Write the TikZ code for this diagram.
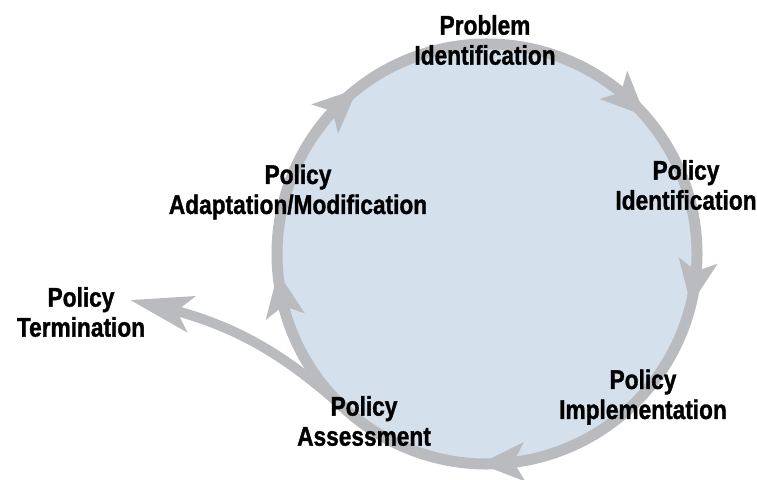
\documentclass[tikz,border=0pt]{standalone}
\usepackage{fontspec}
\setmainfont[FakeStretch=0.84,FakeBold=1.2]{Liberation Sans}
\usetikzlibrary{arrows.meta,bending,calc}
\definecolor{ringgray}{HTML}{BABBBF}
\definecolor{discblue}{HTML}{D4E0EC}
\begin{document}
\begin{tikzpicture}[x=1pt,y=1pt,
  lbl/.style={font=\bfseries\fontsize{27}{30}\selectfont, align=center, inner sep=0pt, text=black},
  ring/.style={draw=ringgray, line width=11pt, -{Stealth[length=44pt,width=38pt,inset=10pt]}},
  branch/.style={draw=ringgray, line width=10pt, -{Stealth[length=62pt,width=36pt,inset=14pt]}}]
\useasboundingbox (0,0) rectangle (757,479);
\coordinate (c) at (487,225);
\fill[discblue] (c) circle (210);
\draw[ring] ($(c)+(192:210)$) arc[start angle=192,end angle=128,radius=210];
\draw[ring] ($(c)+(135:210)$) arc[start angle=135,end angle=41,radius=210];
\draw[ring] ($(c)+(48:210)$) arc[start angle=48,end angle=-14,radius=210];
\draw[ring] ($(c)+(-7:210)$) arc[start angle=-7,end angle=-92,radius=210];
\draw[ring] ($(c)+(275:210)$) arc[start angle=275,end angle=185,radius=210];
\coordinate (bstart) at ($(c)+(228:210)$);
\coordinate (btip) at (130,179);
\draw[branch] (bstart) to[out=138,in=-11] (btip);
\node[lbl] (prob) at (485,439) {Problem\\Identification};
\node[lbl] (pid) at (686,294) {Policy\\Identification};
\node[lbl] (adapt) at (298,287) {Policy\\Adaptation/Modification};
\node[lbl] (term) at (81,167) {Policy\\Termination};
\node[lbl] (impl) at (643,82) {Policy\\Implementation};
\node[lbl] (assess) at (364,58) {Policy\\Assessment};
\end{tikzpicture}
\end{document}
